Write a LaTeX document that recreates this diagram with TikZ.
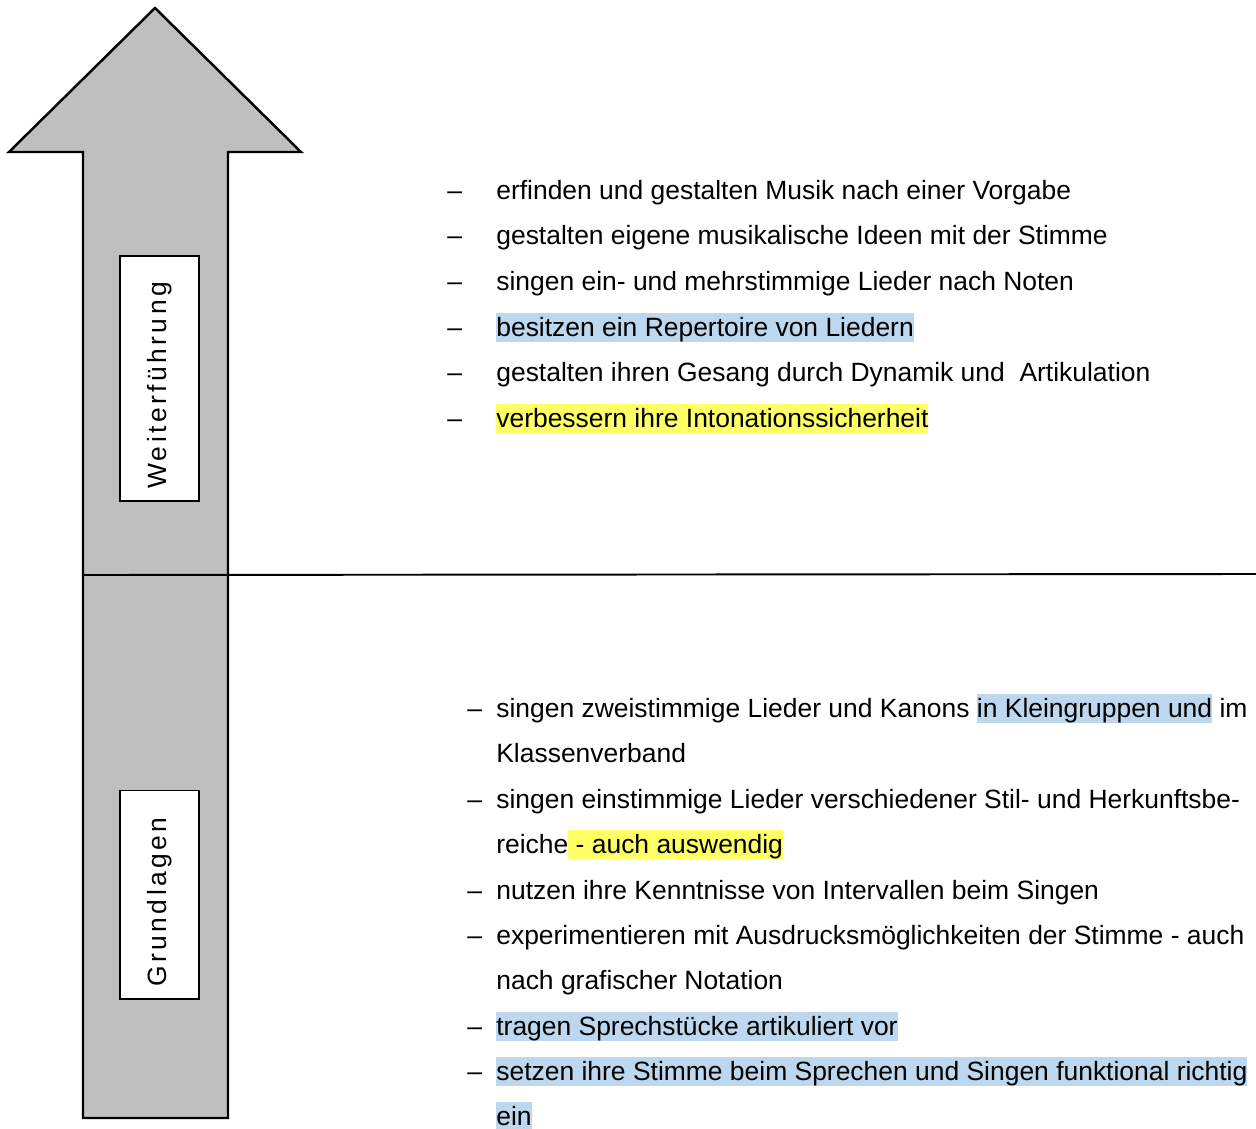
\documentclass[tikz,border=0pt]{standalone}
\usepackage{fontspec}
\setmainfont{Liberation Sans}
\usetikzlibrary{positioning}
\usepackage{xcolor}
\definecolor{hlblue}{HTML}{BDD7EE}
\definecolor{hlyellow}{HTML}{FFFF66}
\definecolor{arrowgray}{HTML}{BFBFBF}
\newcommand\hlb[1]{{\setlength{\fboxsep}{0pt}\colorbox{hlblue}{\vrule height 13pt depth 3.5pt width 0pt\relax #1}}}
\newcommand\hly[1]{{\setlength{\fboxsep}{0pt}\colorbox{hlyellow}{\vrule height 13pt depth 3.5pt width 0pt\relax #1}}}

\begin{document}
\begin{tikzpicture}[x=0.02cm,y=-0.02cm,
  every node/.style={font=\fontsize{15.05}{18}\selectfont,},%
  t/.style={anchor=base west,inner sep=0pt,},%
  lbl/.style={draw,fill=white,line width=0.6pt,rotate=90,minimum height=1.58cm,%
    inner sep=0pt,font=\fontsize{15.05}{18}\selectfont\addfontfeature{LetterSpace=13}},%
  shaft/.style={fill=arrowgray,draw=black,line width=1.4pt,line join=miter,},%
  sep/.style={line width=1.1pt,}
  ]
  \useasboundingbox (0,0) rectangle (1256,1128);

  % arrow
  \draw [shaft] (83,1118) -- (83,152) -- (9,152) -- (155,8) -- (301,152)
    -- (228,152) -- (228,1118) -- cycle;

  \coordinate (split) at (83,575);
  \coordinate (rim) at (1256,574);
  \draw [sep] (split) -- (rim);

  \node (weiter) [lbl,minimum width=4.9cm] at (159.5,378.5) {Weiterführung\kern0.28cm};
  \node (grund) [lbl,minimum width=4.18cm] at (159.5,894.5) {Grundlagen\kern0.3cm};

  % Weiterfuehrung
  \node (wd1) [t] at (447,200) {–};
  \node (w1) [t] at (496,200) {erfinden und gestalten Musik nach einer Vorgabe};
  \node (wd2) [t] at (447,245) {–};
  \node (w2) [t] at (496,245) {gestalten eigene musikalische Ideen mit der Stimme};
  \node (wd3) [t] at (447,291) {–};
  \node (w3) [t] at (496,291) {singen ein- und mehrstimmige Lieder nach Noten};
  \node (wd4) [t] at (447,336) {–};
  \node (w4) [t] at (496,336) {\hlb{besitzen ein Repertoire von Liedern}};
  \node (wd5) [t] at (447,381) {–};
  \node (w5) [t] at (496,381) {gestalten ihren Gesang durch Dynamik und \ Artikulation};
  \node (wd6) [t] at (447,427) {–};
  \node (w6) [t] at (496,427) {\hly{verbessern ihre Intonationssicherheit}};

  % Grundlagen
  \node (gd1) [t] at (467,717) {–};
  \node (g1) [t] at (496,717) {singen zweistimmige Lieder und Kanons \hlb{in Kleingruppen und} im};
  \node (g1b) [t] at (496,762) {Klassenverband};
  \node (gd2) [t] at (467,808) {–};
  \node (g2) [t] at (496,808) {singen einstimmige Lieder verschiedener Stil- und Herkunftsbe-};
  \node (g2b) [t] at (496,853) {reiche\hly{\ - auch auswendig}};
  \node (gd3) [t] at (467,899) {–};
  \node (g3) [t] at (496,899) {nutzen ihre Kenntnisse von Intervallen beim Singen};
  \node (gd4) [t] at (467,944) {–};
  \node (g4) [t] at (496,944) {experimentieren mit Ausdrucksmöglichkeiten der Stimme - auch};
  \node (g4b) [t] at (496,989) {nach grafischer Notation};
  \node (gd5) [t] at (467,1035) {–};
  \node (g5) [t] at (496,1035) {\hlb{tragen Sprechstücke artikuliert vor}};
  \node (gd6) [t] at (467,1080) {–};
  \node (g6) [t] at (496,1080) {\hlb{setzen ihre Stimme beim Sprechen und Singen funktional richtig}};
  \node (g6b) [t] at (496,1125) {\hlb{ein}};
\end{tikzpicture}
\end{document}
